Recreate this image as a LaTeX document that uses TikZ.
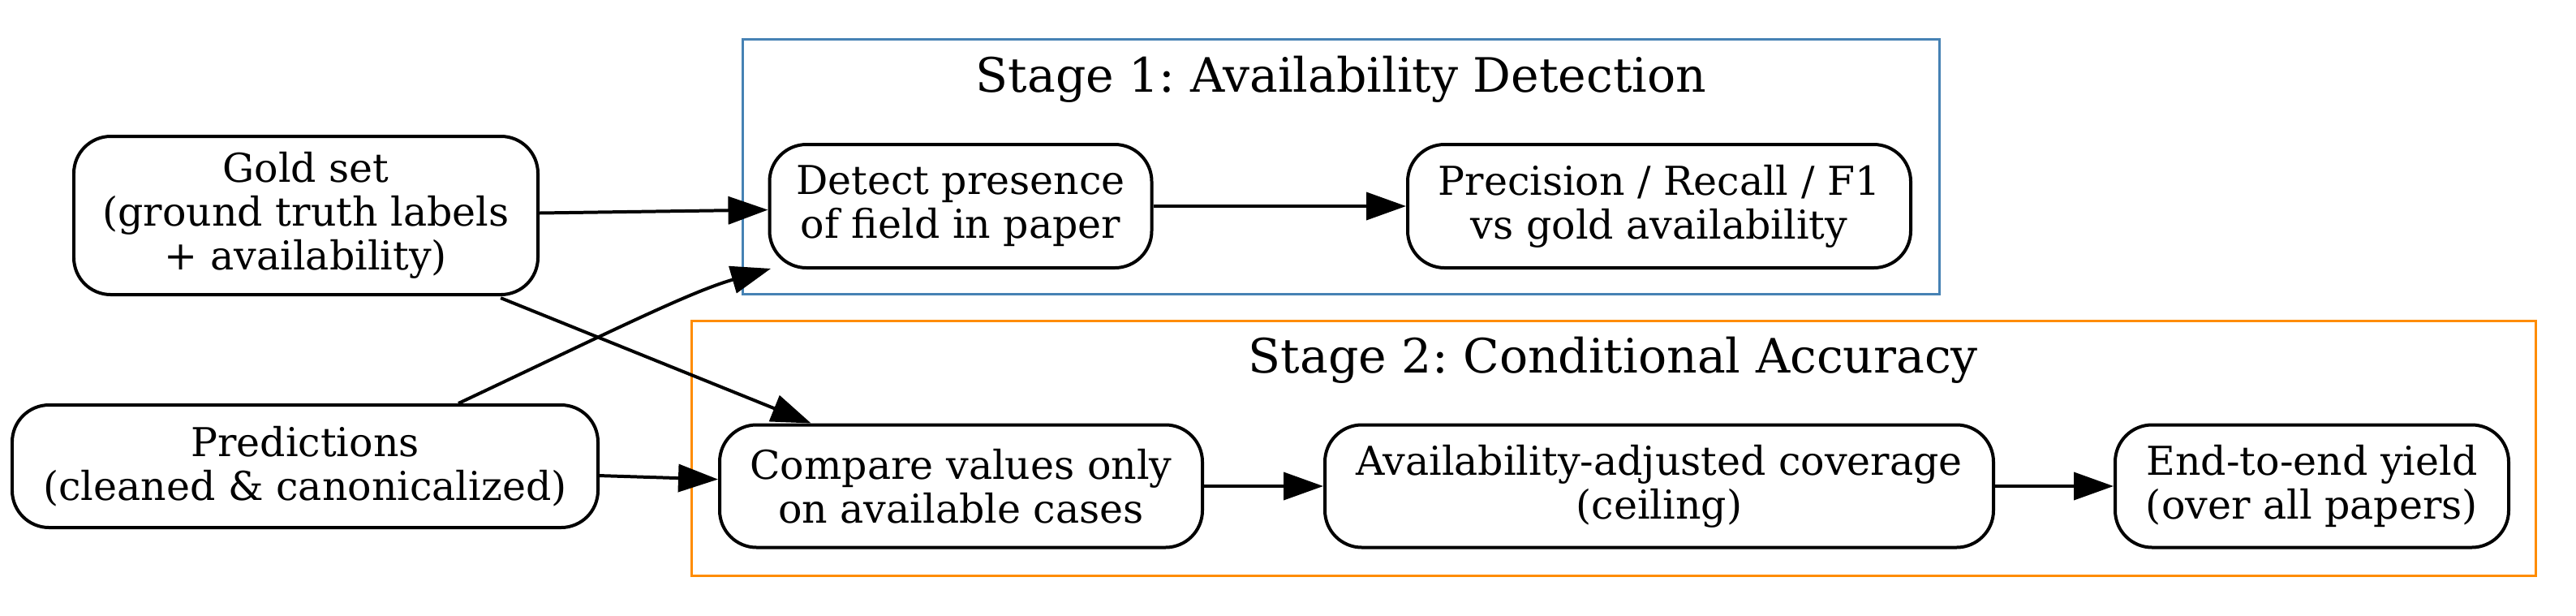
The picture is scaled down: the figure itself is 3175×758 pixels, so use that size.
\documentclass[tikz,border=0pt]{standalone}
\usepackage{fontspec}
\setmainfont{DejaVu Serif}
\usetikzlibrary{arrows.meta}
\definecolor{sonecol}{HTML}{4682B4}
\definecolor{stwocol}{HTML}{FF8C00}
\frenchspacing
\tikzset{
  nbox/.style 2 args={draw, line width=1.14pt, rounded corners=13pt,
    minimum width=#1*0.2857pt, minimum height=#2*0.2857pt, inner sep=0pt,
    align=center, font=\fontsize{14}{15.5}\selectfont},
  clbox/.style n args={3}{draw=#1, line width=0.86pt, inner sep=0pt,
    minimum width=#2*0.2857pt, minimum height=#3*0.2857pt},
  cltitle/.style={anchor=base, inner sep=0pt, font=\fontsize{16.7}{20}\selectfont},
  conn/.style={line width=1.14pt, -{Triangle[length=14pt,width=9.7pt]}},
}
\begin{document}
\begin{tikzpicture}[x=0.2857pt,y=-0.2857pt]
\useasboundingbox (0,0) rectangle (3175,758);
% clusters
\node[clbox={sonecol}{1475}{314}] (s1) at (1653,205.5) {};
\node[cltitle] (t1) at (1653,113.5) {Stage 1: Availability Detection};
\node[clbox={stwocol}{2273}{314}] (s2) at (1988.5,552) {};
\node[cltitle] (t2) at (1988.5,459) {Stage 2: Conditional Accuracy};
% nodes
\node[nbox={572}{195}] (gold) at (377,265.5) {Gold set\\(ground truth labels\\+ availability)};
\node[nbox={722}{151}] (pred) at (376,574.5) {Predictions\\(cleaned \& canonicalized)};
\node[nbox={471}{152}] (detect) at (1184,254) {Detect presence\\of field in paper};
\node[nbox={620}{152}] (prec) at (2045,254) {Precision / Recall / F1\\vs gold availability};
\node[nbox={595}{151}] (comp) at (1184.5,599) {Compare values only\\on available cases};
\node[nbox={824}{151}] (adj) at (2045,599) {Availability-adjusted coverage\\(ceiling)};
\node[nbox={485}{151}] (yield) at (2849.5,599) {End-to-end yield\\(over all papers)};
% connectors
\draw[conn] ([yshift=0.86pt]gold.east) -- ([yshift=-1.3pt]detect.west);
\draw[conn] (detect.east) -- (prec.west);
\draw[conn] ([xshift=54pt]pred.north) .. controls (760,405) and (850,360) .. ([xshift=1pt,yshift=0.3pt]detect.south west);
\draw[conn] ([xshift=68.6pt,yshift=-0.6pt]gold.south) -- ([xshift=-52.8pt]comp.north);
\draw[conn] ([yshift=-3.3pt]pred.east) -- ([yshift=2.4pt]comp.west);
\draw[conn] (comp.east) -- (adj.west);
\draw[conn] (adj.east) -- (yield.west);
\end{tikzpicture}
\end{document}
